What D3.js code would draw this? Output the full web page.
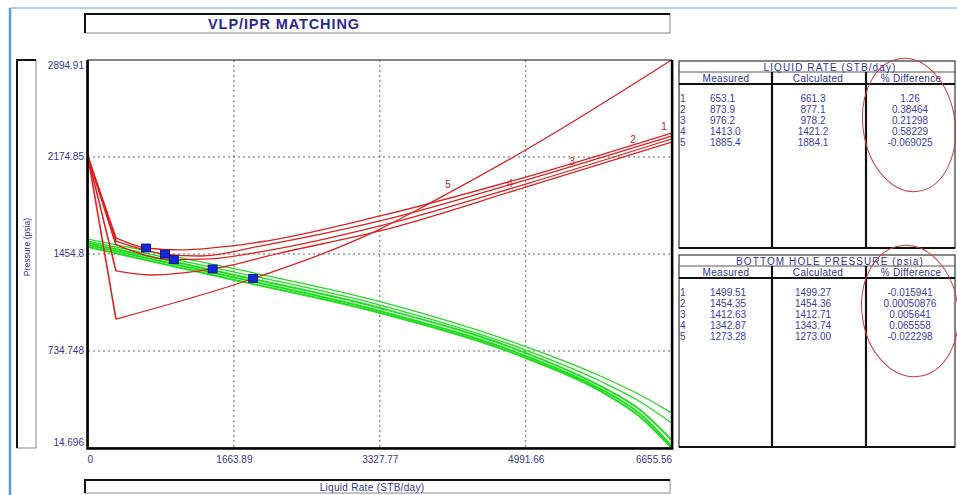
<!DOCTYPE html>
<html><head><meta charset="utf-8">
<script src="https://cdn.jsdelivr.net/npm/d3@7"></script>
<style>body{margin:0;background:#fff;} svg{display:block;font-family:"Liberation Sans",Arial,sans-serif;}</style>
</head><body><svg id="c" width="957" height="495"></svg>
<script>
// ---- data ----
const xTicks = [0, 1663.89, 3327.77, 4991.66, 6655.56];
const xTickLabels = ["0", "1663.89", "3327.77", "4991.66", "6655.56"];
const yTicks = [14.696, 734.748, 1454.8, 2174.85, 2894.91];
const yTickLabels = ["14.696", "734.748", "1454.8", "2174.85", "2894.91"];

// VLP curves (rate STB/day, pressure psia)
const vlp1 = [[0,2175],[319,1574],[661.3,1499.27],[1049,1485],[1619,1514],[1962,1544],[3330,1737],[4992,2026],[6655.56,2353]];
const vlp2 = [[0,2175],[319,1551],[877.1,1454.36],[1277,1440],[1962,1514],[3330,1700],[4992,2004],[6655.56,2331]];
const vlp3 = [[0,2175],[319,1522],[978.2,1412.71],[1391,1418],[1962,1470],[3330,1663],[4992,1974],[6655.56,2309]];
const vlp4 = [[0,2175],[319,1329],[707,1299],[1421.2,1343.74],[2190,1462],[3330,1626],[4992,1952],[6655.56,2286]];
const vlp5 = [[0,2175],[319,972],[1884.1,1273.0],[3330,1640],[3900,1833],[4992,2227],[6655.56,2894.91]];
const vlpNames = ["1","2","3","4","5"];
const vlpLabelRates = [6569, 6215, 5520, 4812, 4105];

// IPR curves
const iprRates = [0, 1619, 3330, 4992, 5841, 6297, 6655.56];
const ipr1 = [1566, 1351, 1101, 767, 549, 408, 275];
const ipr2 = [1551, 1328, 1076, 742, 512, 358, 200];
const ipr3 = [1537, 1306, 1054, 720, 475, 297, 74];
const ipr4 = [1522, 1288, 1032, 698, 453, 267, 30];
const ipr5 = [1507, 1269, 1017, 683, 438, 245, 14.696];

// matched points (calculated)
const matchRates = [661.3, 877.1, 978.2, 1421.2, 1884.1];
const matchPressures = [1499.27, 1454.36, 1412.71, 1343.74, 1273.00];

// tables
const rateMeasured = ["653.1","873.9","976.2","1413.0","1885.4"];
const rateCalculated = ["661.3","877.1","978.2","1421.2","1884.1"];
const rateDiff = ["1.26","0.38464","0.21298","0.58229","-0.069025"];
const bhpMeasured = ["1499.51","1454.35","1412.63","1342.87","1273.28"];
const bhpCalculated = ["1499.27","1454.36","1412.71","1343.74","1273.00"];
const bhpDiff = ["-0.015941","0.00050876","0.005641","0.065558","-0.022298"];

// ---- drawing ----
const svg = d3.select("#c");
const navy = "#34349a";
const L = 88, R = 671.6, T = 60, B = 448;
const x = d3.scaleLinear().domain([0, 6655.56]).range([L, R]);
const y = d3.scaleLinear().domain([14.696, 2894.91]).range([B, T]);

// window frame
svg.append("line").attr("x1",10).attr("x2",957).attr("y1",8).attr("y2",8).attr("stroke","#9dbcd9").attr("stroke-width",1.5);
svg.append("line").attr("x1",10).attr("x2",10).attr("y1",8).attr("y2",495).attr("stroke","#5b9bd5").attr("stroke-width",2.5);

function box(x0,y0,w,h){
  svg.append("rect").attr("x",x0).attr("y",y0).attr("width",w).attr("height",h).attr("fill","#fff").attr("stroke","#888").attr("stroke-width",1);
  svg.append("path").attr("d",`M${x0},${y0+h}V${y0}H${x0+w}`).attr("fill","none").attr("stroke","#111").attr("stroke-width",2);
}
// title box
box(85,14,585,19);
svg.append("text").attr("x",284).attr("y",28.5).attr("text-anchor","middle").attr("font-size",14.5).attr("letter-spacing",0.9).attr("font-weight","bold").attr("fill","#2b2b90").text("VLP/IPR MATCHING");
// y label box
box(17,60,19,388);
svg.append("text").attr("transform","translate(29.8,247) rotate(-90)").attr("text-anchor","middle").attr("font-size",8.6).attr("fill",navy).text("Pressure  (psia)");
// x label box
box(85,480,585,13);
svg.append("text").attr("x",372).attr("y",490.5).attr("text-anchor","middle").attr("font-size",10).attr("letter-spacing",0.3).attr("fill",navy).text("Liquid Rate  (STB/day)");

// plot background
svg.append("rect").attr("x",L).attr("y",T).attr("width",R-L).attr("height",B-T).attr("fill","#fff");

// grid
const g = svg.append("g");
g.selectAll(".gx").data(xTicks.slice(1,-1)).enter().append("line")
  .attr("x1",d=>x(d)).attr("x2",d=>x(d)).attr("y1",T).attr("y2",B)
  .attr("stroke","#666").attr("stroke-width",1).attr("stroke-dasharray","2,3");
g.selectAll(".gy").data(yTicks.slice(1,-1)).enter().append("line")
  .attr("x1",L).attr("x2",R).attr("y1",d=>y(d)).attr("y2",d=>y(d))
  .attr("stroke","#666").attr("stroke-width",1).attr("stroke-dasharray","2,3");

// axes labels
const xa = svg.append("g").attr("transform",`translate(0,${B})`)
  .call(d3.axisBottom(x).tickValues(xTicks).tickSize(0).tickPadding(8).tickFormat((d,i)=>xTickLabels[i]));
xa.select(".domain").remove();
xa.selectAll("text").attr("font-size",10).attr("fill",navy).attr("font-family","Liberation Sans, Arial, sans-serif")
  .attr("text-anchor",(d,i)=> i===0 ? "start" : (i===xTicks.length-1 ? "end" : "middle"))
  .attr("dx",(d,i)=> i===0 ? -1 : 0);
const ya = svg.append("g").attr("transform",`translate(${L-3},0)`)
  .call(d3.axisLeft(y).tickValues(yTicks).tickSize(0).tickPadding(1).tickFormat((d,i)=>yTickLabels[i]));
ya.select(".domain").remove();
ya.selectAll("text").attr("font-size",10).attr("fill",navy).attr("font-family","Liberation Sans, Arial, sans-serif")
  .attr("dy",(d,i)=> i===0 ? "-0.3em" : (i===yTicks.length-1 ? "0.85em" : "0.2em"));

// clip
svg.append("clipPath").attr("id","clip").append("rect").attr("x",L).attr("y",T-1).attr("width",R-L).attr("height",B-T+1);
const plot = svg.append("g").attr("clip-path","url(#clip)");

// IPR curves
const line = d3.line().x(d=>x(d[0])).y(d=>y(d[1]));
const smooth = d3.line().x(d=>x(d[0])).y(d=>y(d[1])).curve(d3.curveMonotoneX);
[ipr1,ipr2,ipr3,ipr4,ipr5].forEach((arr,i)=>{
  const pts = iprRates.map((r,j)=>[r,arr[j]]);
  plot.append("path").attr("d",smooth(pts)).attr("fill","none").attr("stroke","#22dd22")
    .attr("stroke-width", i<2 ? 1.3 : 2);
});

// VLP curves
const vlps = [vlp1,vlp2,vlp3,vlp4,vlp5];
vlps.forEach((arr)=>{
  plot.append("path").attr("d",line(arr.slice(0,2))).attr("fill","none").attr("stroke","#dd2222").attr("stroke-width",1.6);
  plot.append("path").attr("d",smooth(arr.slice(1))).attr("fill","none").attr("stroke","#dd2222").attr("stroke-width",1.3);
});
function interp(arr, r){
  for(let i=1;i<arr.length;i++){
    if(r<=arr[i][0]){const a=arr[i-1],b=arr[i];return a[1]+(b[1]-a[1])*(r-a[0])/(b[0]-a[0]);}
  }
  return arr[arr.length-1][1];
}
vlps.forEach((arr,i)=>{
  const r = vlpLabelRates[i];
  plot.append("text").attr("x",x(r)).attr("y",y(interp(arr,r))-5).attr("text-anchor","middle")
    .attr("font-size",10).attr("fill","#cc2222").text(vlpNames[i]);
});

// match markers
plot.selectAll(".m").data(matchRates).enter().append("rect")
  .attr("x",(d)=>x(d)-4.5).attr("y",(d,i)=>y(matchPressures[i])-4)
  .attr("width",9).attr("height",8).attr("fill","#1428d8").attr("stroke","#0a0a70").attr("stroke-width",0.8);

// plot frame
svg.append("rect").attr("x",L).attr("y",T).attr("width",R-L).attr("height",B-T).attr("fill","none").attr("stroke","#333").attr("stroke-width",1.2);
svg.append("path").attr("d",`M${L-0.5},${T}V${B+0.5}H${R+0.5}V${T}`).attr("fill","none").attr("stroke","#000").attr("stroke-width",2.6);

// tables
function table(top, bottom, title, m, c, d){
  const x0 = 679, x1 = 955, s1 = 772, s2 = 866;
  const tg = svg.append("g");
  const fc = "#3a3ab0";
  tg.append("rect").attr("x",x0).attr("y",top).attr("width",x1-x0).attr("height",bottom-top).attr("fill","#fff").attr("stroke","#333").attr("stroke-width",1.2);
  tg.append("line").attr("x1",x0).attr("x2",x1).attr("y1",top+11).attr("y2",top+11).attr("stroke","#555").attr("stroke-width",1);
  tg.append("line").attr("x1",x0).attr("x2",x1).attr("y1",top+23).attr("y2",top+23).attr("stroke","#111").attr("stroke-width",2);
  tg.append("line").attr("x1",x0).attr("x2",x1).attr("y1",bottom).attr("y2",bottom).attr("stroke","#111").attr("stroke-width",2);
  [s1,s2].forEach(sx=>tg.append("line").attr("x1",sx).attr("x2",sx).attr("y1",top+11).attr("y2",bottom).attr("stroke","#111").attr("stroke-width",2.2));
  tg.append("text").attr("x",830).attr("y",top+9.5).attr("text-anchor","middle").attr("font-size",10).attr("letter-spacing",1.1).attr("fill",navy).text(title);
  [["Measured",726],["Calculated",818],["% Difference",911]].forEach(h=>
    tg.append("text").attr("x",h[1]).attr("y",top+21).attr("text-anchor","middle").attr("font-size",10).attr("letter-spacing",0.3).attr("fill",navy).text(h[0]));
  m.forEach((v,i)=>{
    const yy = top + 40.5 + i*11.2;
    tg.append("text").attr("x",680).attr("y",yy).attr("font-size",10).attr("fill",fc).text(String(i+1));
    tg.append("text").attr("x",710).attr("y",yy).attr("font-size",10).attr("fill",fc).text(v);
    tg.append("text").attr("x",813).attr("y",yy).attr("text-anchor","middle").attr("font-size",10).attr("fill",fc).text(c[i]);
    tg.append("text").attr("x",910).attr("y",yy).attr("text-anchor","middle").attr("font-size",10).attr("fill",fc).text(d[i]);
  });
}
table(61, 248, "LIQUID RATE   (STB/day)", rateMeasured, rateCalculated, rateDiff);
table(255, 447, "BOTTOM HOLE PRESSURE   (psia)", bhpMeasured, bhpCalculated, bhpDiff);

// hand-drawn annotation ellipses
svg.append("ellipse").attr("cx",909).attr("cy",125).attr("rx",46).attr("ry",67).attr("transform","rotate(-8,909,125)")
  .attr("fill","none").attr("stroke","#c84040").attr("stroke-width",1);
svg.append("ellipse").attr("cx",910).attr("cy",311).attr("rx",48).attr("ry",66).attr("transform","rotate(-8,910,311)")
  .attr("fill","none").attr("stroke","#c84040").attr("stroke-width",1);
</script></body></html>
